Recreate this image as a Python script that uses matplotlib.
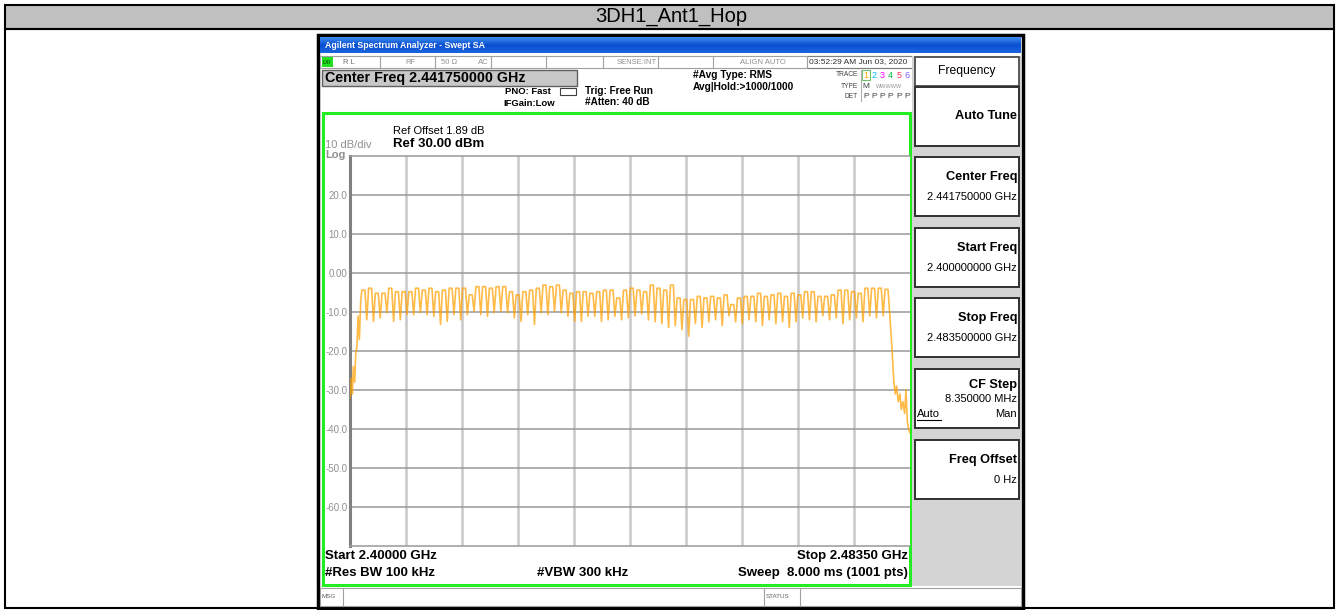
import numpy as np
import matplotlib
matplotlib.use('Agg')
import matplotlib.pyplot as plt
from matplotlib.patches import Rectangle

# Trace (dBm). One peak per hop channel 2402..2480 MHz,
# one trough between neighbouring channels, plus the band edges.
channels_mhz = np.arange(2402, 2481)
peak_dbm = [-4.4, -3.9, -5.2, -5.2, -3.9, -4.8, -4.8, -4.8, -3.9, -4.4,
            -3.9, -4.8, -4.4, -3.9, -3.9, -3.9, -5.6, -3.5, -3.5, -3.9,
            -3.5, -3.5, -4.8, -5.6, -4.8, -4.4, -3.9, -3.1, -3.5, -3.1,
            -4.4, -5.2, -4.8, -4.8, -5.2, -4.8, -4.4, -4.4, -6.4, -4.4,
            -3.9, -4.4, -4.8, -3.1, -3.9, -4.4, -3.1, -6.4, -6.8, -6.8,
            -6.0, -6.4, -6.0, -6.4, -5.6, -8.1, -6.4, -6.0, -6.0, -5.2,
            -6.0, -5.6, -5.2, -6.0, -5.2, -5.6, -4.8, -4.8, -6.0, -6.0,
            -5.6, -4.4, -4.4, -4.8, -5.2, -3.9, -3.9, -3.9, -4.2]
trough_dbm = [-12.0, -12.4, -11.5, -10.2, -12.4, -12.0, -10.7, -10.7, -10.2, -10.7,
              -11.1, -13.2, -12.4, -10.7, -12.0, -10.7, -9.8, -10.7, -11.1, -10.2,
              -9.8, -10.2, -11.5, -12.4, -10.7, -13.2, -10.2, -10.7, -9.8, -10.2,
              -11.1, -12.4, -12.4, -11.1, -11.1, -12.4, -12.0, -11.1, -12.0,
              -11.5, -11.0, -10.5, -12.0, -12.5, -13.0, -14.0, -13.5, -14.5, -16.2,
              -13.0, -14.0, -12.5, -12.0, -13.5, -11.0, -12.5, -13.0, -12.0, -12.5,
              -13.5, -12.0, -13.0, -12.5, -14.0, -12.5, -11.5, -12.0, -12.5, -11.0,
              -12.0, -11.5, -13.0, -12.0, -11.5, -12.5, -11.0, -11.5, -11.0]
rise_mhz = [2400.0, 2400.2, 2400.35, 2400.5, 2400.7, 2400.85, 2401.05, 2401.2, 2401.4, 2401.6]
rise_dbm = [-32, -27, -31, -24, -28, -21, -18.5, -11, -17, -7]
fall_mhz = [2480.5, 2480.8, 2481.1, 2481.3, 2481.5, 2481.75, 2482.0, 2482.2,
            2482.45, 2482.7, 2482.9, 2483.1, 2483.3, 2483.5]
fall_dbm = [-11, -19, -28, -31, -29, -33, -31, -35, -33, -36, -30, -38, -40, -41]

y_ticks = [20, 10, 0, -10, -20, -30, -40, -50, -60]
y_tick_labels = ['20.0', '10.0', '0.00', '-10.0', '-20.0', '-30.0', '-40.0', '-50.0', '-60.0']

panel_titles = ['Auto Tune', 'Center Freq', 'Start Freq', 'Stop Freq', 'CF Step', 'Freq Offset']
panel_values = ['', '2.441750000 GHz', '2.400000000 GHz', '2.483500000 GHz', '8.350000 MHz', '0 Hz']
trace_nums = ['1', '2', '3', '4', '5', '6']
trace_colors = ['#FFA500', '#00B8FF', '#FF00FF', '#00C040', '#FF3060', '#8060FF']

W, H = 1339, 610
fig = plt.figure(figsize=(W / 100, H / 100), dpi=100)
bg = fig.add_axes([0, 0, 1, 1])
bg.set_xlim(0, W)
bg.set_ylim(H, 0)
bg.axis('off')

FONT = 'Liberation Sans'


def box(x0, y0, x1, y1, fc='none', ec='none', lw=1.0, z=1):
    bg.add_patch(Rectangle((x0, y0), x1 - x0, y1 - y0, facecolor=fc, edgecolor=ec, linewidth=lw, zorder=z))


def txt(x, y, s, size, ha='left', color='black', bold=False, family=FONT, z=5):
    bg.text(x, y, s, fontsize=size, ha=ha, va='center', color=color,
            fontweight='bold' if bold else 'normal', family=family, zorder=z)


# outer report table
box(5, 5, 1334, 29, fc='#C0C0C0', ec='black', lw=1.5)
box(5, 29, 1334, 608, ec='black', lw=1.5)
txt(671, 17, '3DH1_Ant1_Hop', 14.5, ha='center')

# analyzer window
box(318, 35, 1023, 608, fc='white', ec='black', lw=2.5)
grad = np.linspace(0, 1, 20).reshape(-1, 1)
bg.imshow(grad, cmap=matplotlib.colors.LinearSegmentedColormap.from_list('xp', ['#3C8CF0', '#0A4ED0', '#1C64E0']),
          extent=(320, 1021, 53, 37), aspect='auto', zorder=2)
txt(325, 45.5, 'Agilent Spectrum Analyzer - Swept SA', 6.3, color='white', bold=True)

# status row
box(320, 56, 913, 68, fc='white', ec='#A0A0A0', lw=0.8)
for sx in [380, 435, 491, 546, 603, 658, 713, 807]:
    bg.plot([sx, sx], [56, 68], color='#A0A0A0', lw=0.8, zorder=3)
box(322, 57, 333, 67, fc='#20E020', z=3)
txt(323, 62, 'LXI', 3.6, color='#006000', bold=True)
txt(343, 62, 'R L', 5.5, color='#707070')
txt(405, 62, 'RF', 5.5, color='#909090')
txt(441, 62, '50 \u03a9', 5.5, color='#909090')
txt(478, 62, 'AC', 5.5, color='#909090')
txt(637, 62, 'SENSE:INT', 5.5, color='#909090', ha='center')
txt(763, 62, 'ALIGN AUTO', 5.5, color='#909090', ha='center')
box(807, 56, 913, 68, ec='#808080', lw=0.8)
txt(809, 62, '03:52:29 AM Jun 03, 2020', 6.0, color='#303030')

# measurement settings block
box(322, 70, 577, 86, fc='#C8C8C8', ec='#606060', lw=1.0)
txt(325, 78, 'Center Freq 2.441750000 GHz', 10.3, bold=True)
txt(551, 91, 'PNO: Fast', 6.8, ha='right', bold=True)
txt(555, 103, 'IFGain:Low', 6.8, ha='right', bold=True)
bg.add_patch(Rectangle((560, 88), 16, 7, facecolor='white', edgecolor='#404040', linewidth=0.8, zorder=3))
txt(585, 91, 'Trig: Free Run', 7.2, bold=True)
txt(585, 102, '#Atten: 40 dB', 7.2, bold=True)
txt(693, 75, '#Avg Type: RMS', 7.3, bold=True)
txt(693, 87, 'Avg|Hold:>1000/1000', 7.3, bold=True)
txt(858, 75, 'TRACE', 4.8, ha='right', color='#404040')
txt(858, 87, 'TYPE', 4.8, ha='right', color='#404040')
txt(858, 97, 'DET', 4.8, ha='right', color='#404040')
bg.plot([861, 861], [70, 101], color='#B0B0B0', lw=0.8)
for k in range(6):
    cx = 866 + k * 8.2
    txt(cx, 75, trace_nums[k], 6.5, ha='center', color=trace_colors[k])
    txt(cx, 97, 'P', 6.0, ha='center', color='#404040')
box(862, 70, 870, 80, ec='#70C070', lw=0.8)
txt(866, 87, 'M', 6.0, ha='center', color='#404040')
txt(889, 87, 'WWWWW', 4.0, ha='center', color='#909090')

# green display frame
box(323, 113, 910, 585, ec='#22EE22', lw=2.2, z=4)
txt(393, 131, 'Ref Offset 1.89 dB', 8.0)
txt(393, 144, 'Ref 30.00 dBm', 9.5, bold=True)
txt(325, 145, '10 dB/div', 8.0, color='#909090')
txt(325, 155, 'Log', 8.0, color='#909090', bold=True)

txt(325, 556, 'Start 2.40000 GHz', 9.5, bold=True)
txt(908, 556, 'Stop 2.48350 GHz', 9.5, ha='right', bold=True)
txt(325, 573, '#Res BW 100 kHz', 9.5, bold=True)
txt(537, 573, '#VBW 300 kHz', 9.5, bold=True)
txt(908, 573, 'Sweep  8.000 ms (1001 pts)', 9.5, ha='right', bold=True)

# message bar
box(320, 588, 1021, 606, fc='white', ec='#A0A0A0', lw=0.8)
for sx in [343, 764, 800]:
    bg.plot([sx, sx], [588, 606], color='#A0A0A0', lw=0.8)
txt(321, 597, 'MSG', 4.5, color='#606060')
txt(766, 597, 'STATUS', 4.5, color='#606060')

# soft-key panel
box(912, 56, 1021, 586, fc='#D4D4D4')
box(915, 57, 1019, 86, fc='white', ec='#404040', lw=1.2)
txt(967, 71, 'Frequency', 8.7, ha='center')
key_tops = [87, 157, 228, 298, 369, 440]
for k, top in enumerate(key_tops):
    box(915, top, 1019, top + 59, fc='white', ec='#303030', lw=1.4)
    title = panel_titles[k]
    if k == 0:
        txt(1017, top + 29, title, 9.2, ha='right', bold=True)
    elif title == 'CF Step':
        txt(1017, top + 16, title, 9.2, ha='right', bold=True)
        txt(1017, top + 30, panel_values[k], 8.0, ha='right')
    else:
        txt(1017, top + 20, title, 9.2, ha='right', bold=True)
        txt(1017, top + 40, panel_values[k], 8.0, ha='right')
txt(1017, 414, 'Man', 8.0, ha='right')
txt(917, 414, 'Auto', 8.0)
bg.plot([917, 941], [420, 420], color='black', lw=0.8)

# spectrum plot
trace_x = list(rise_mhz)
trace_y = list(rise_dbm)
for i, ch in enumerate(channels_mhz):
    trace_x += [ch - 0.22, ch + 0.22]
    trace_y += [peak_dbm[i], peak_dbm[i]]
    if i < len(trough_dbm):
        trace_x.append(ch + 0.5)
        trace_y.append(trough_dbm[i])
trace_x += fall_mhz
trace_y += fall_dbm

ax = fig.add_axes([350 / W, 1 - 546 / H, 560 / W, 390 / H])
ax.set_xlim(2400, 2483.5)
ax.set_ylim(-70, 30)
ax.set_facecolor('white')
for gx in np.linspace(2400, 2483.5, 11)[1:-1]:
    ax.axvline(gx, color='#C8C8C8', lw=1.8, zorder=1)
for gy in range(-60, 30, 10):
    ax.axhline(gy, color='#999999', lw=1.1, zorder=1)
ax.plot(trace_x, trace_y, color='#FFA000', lw=1.2, alpha=0.72, zorder=3)
ax.set_xticks([])
ax.set_yticks(y_ticks)
ax.set_yticklabels(y_tick_labels, fontsize=7, color='#909090', family=FONT)
ax.tick_params(axis='y', length=0, pad=2)
ax.spines['left'].set_color('#808080')
ax.spines['left'].set_linewidth(2.2)
ax.spines['right'].set_visible(False)
for s in ['top', 'bottom']:
    ax.spines[s].set_color('#999999')
    ax.spines[s].set_linewidth(1.1)

fig.savefig('out.png', dpi=100)
